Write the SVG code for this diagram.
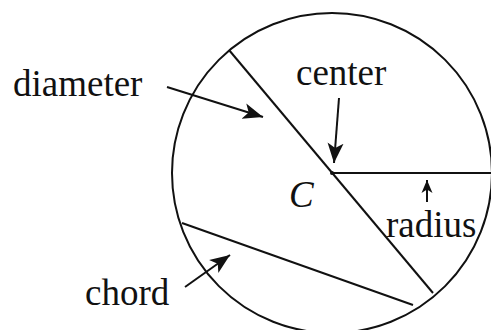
<svg xmlns="http://www.w3.org/2000/svg" width="491" height="330" viewBox="0 0 491 330">
<defs>
<style>
.ln{stroke:#111;stroke-width:2;fill:none}
.t{font-family:"Liberation Serif","Times New Roman",serif;font-size:37px;fill:#111}
</style>
<marker id="ah" markerUnits="userSpaceOnUse" markerWidth="24" markerHeight="24" viewBox="0 0 24 24" refX="20" refY="12" orient="auto">
<path d="M0,4 L20,12 L0,20 L5,12 Z" fill="#111"/>
</marker>
<marker id="ahs" markerUnits="userSpaceOnUse" markerWidth="16" markerHeight="16" viewBox="0 0 16 16" refX="13" refY="8" orient="auto">
<path d="M0,2.5 L13,8 L0,13.5 L3.5,8 Z" fill="#111"/>
</marker>
</defs>
<rect width="491" height="330" fill="#fff"/>
<g id="circle"><circle class="ln" cx="332" cy="173" r="160"/></g>
<g id="diameter"><line class="ln" x1="229" y1="50" x2="433" y2="293"/></g>
<g id="radius"><line class="ln" x1="332" y1="173" x2="491" y2="173" stroke-width="2.5"/></g>
<g id="chord"><line class="ln" x1="182" y1="223" x2="413" y2="305"/></g>
<g id="center"><circle cx="332" cy="173" r="2" fill="#111"/></g>
<g id="connectors">
<line class="ln" x1="167" y1="87" x2="263" y2="117" marker-end="url(#ah)"/>
<line class="ln" x1="339" y1="98" x2="334" y2="163" marker-end="url(#ah)"/>
<line class="ln" x1="427" y1="202" x2="427" y2="180" marker-end="url(#ahs)"/>
<line class="ln" x1="185" y1="287" x2="230" y2="255" marker-end="url(#ah)"/>
</g>
<g id="labels">
<text class="t" x="13" y="96">diameter</text>
<text class="t" x="296" y="85">center</text>
<text class="t" x="289" y="207" font-style="italic" font-size="42">C</text>
<text class="t" x="386" y="237">radius</text>
<text class="t" x="85" y="305">chord</text>
</g>
</svg>
